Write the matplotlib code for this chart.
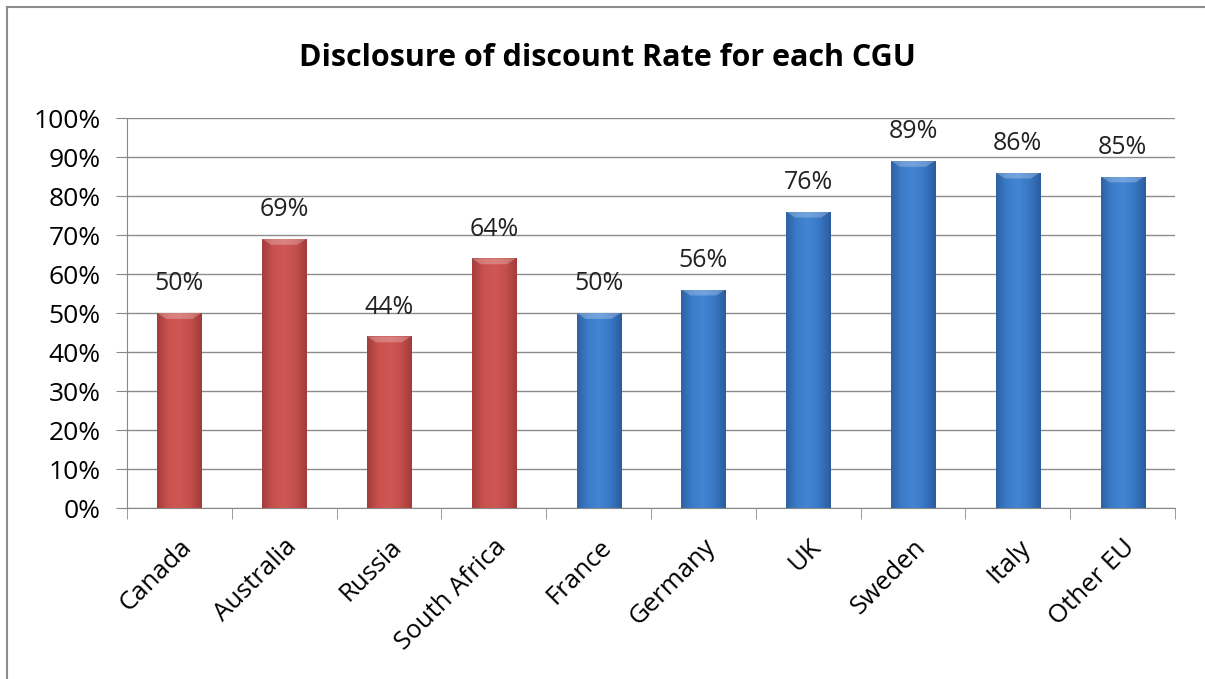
import numpy as np
import matplotlib.pyplot as plt
import matplotlib.transforms as mtransforms
from matplotlib.lines import Line2D
from matplotlib.colors import LinearSegmentedColormap

categories = ['Canada', 'Australia', 'Russia', 'South Africa', 'France',
              'Germany', 'UK', 'Sweden', 'Italy', 'Other EU']
values = [50, 69, 44, 64, 50, 56, 76, 89, 86, 85]
groups = ['red', 'red', 'red', 'red', 'blue', 'blue', 'blue', 'blue', 'blue', 'blue']

plt.rcParams['font.family'] = ['Open Sans', 'DejaVu Sans']

fig = plt.figure(figsize=(12.05, 6.79), dpi=100)
ax = fig.add_axes([0.1054, 0.2518, 0.8697, 0.5744])

# frame of the chart area (cropped screenshot: only top and left visible)
fig.add_artist(Line2D([7/1205, 7/1205], [0, 1-7/679], color='#8c8c8c', lw=1.5))
fig.add_artist(Line2D([7/1205, 1], [1-7/679, 1-7/679], color='#8c8c8c', lw=1.5))

cmaps = {
    'red': LinearSegmentedColormap.from_list('r', ['#a43d3b', '#c9524f', '#cf5855', '#c44f4c', '#a23c3a']),
    'blue': LinearSegmentedColormap.from_list('b', ['#2d62a3', '#3c7dcb', '#4385d2', '#3877c4', '#2b5d9e']),
}
base = {'red': '#c9504e', 'blue': '#3b79c6'}

x = np.arange(len(categories))
w = 0.42
bars = ax.bar(x, values, width=w, color=[base[g] for g in groups], zorder=2,
              edgecolor='none')
grad = np.linspace(0, 1, 64).reshape(1, -1)
for b, g, v in zip(bars, groups, values):
    x0 = b.get_x()
    im = ax.imshow(grad, cmap=cmaps[g], aspect='auto', extent=(x0, x0 + w, 0, v),
                   zorder=3, interpolation='bicubic')
    im.set_clip_path(b)
    # lighter top bevel
    ax.fill([x0, x0 + w, x0 + w*0.8, x0 + w*0.2], [v, v, v - 1.5, v - 1.5],
            color='white', alpha=0.25, lw=0, zorder=4)
    ax.annotate(f'{v}%', (b.get_x() + w/2, v), xytext=(0, 12), textcoords='offset points',
                ha='center', va='bottom', fontsize=18, color='#222222', zorder=5)

ax.set_xlim(-0.5, len(categories) - 0.5)
ax.set_ylim(0, 100)
ax.set_yticks(np.arange(0, 101, 10))
ax.set_yticklabels([f'{t}%' for t in range(0, 101, 10)], fontsize=19)
ax.set_xticks(x)
ax.set_xticklabels(categories, rotation=45, ha='right', rotation_mode='anchor',
                   fontsize=18.5)
shift = mtransforms.ScaledTranslation(-6/100, 0, fig.dpi_scale_trans)
for lab in ax.get_xticklabels():
    lab.set_transform(lab.get_transform() + shift)
ax.set_xticks(np.arange(-0.5, len(categories), 1), minor=True)
ax.tick_params(axis='x', which='major', length=0, pad=19)
ax.tick_params(axis='x', which='minor', length=8, color='#888888', direction='out')
ax.tick_params(axis='y', length=8, color='#888888', direction='out', pad=11)
ax.yaxis.grid(True, color='#8c8c8c', lw=1, zorder=0)
ax.set_axisbelow(True)
for s in ['top', 'right']:
    ax.spines[s].set_visible(False)
for s in ['left', 'bottom']:
    ax.spines[s].set_color('#888888')

fig.text(0.504, 1 - 58/679, 'Disclosure of discount Rate for each CGU', ha='center',
         va='center', fontsize=22, fontweight='bold')

fig.savefig('out.png', dpi=100)
